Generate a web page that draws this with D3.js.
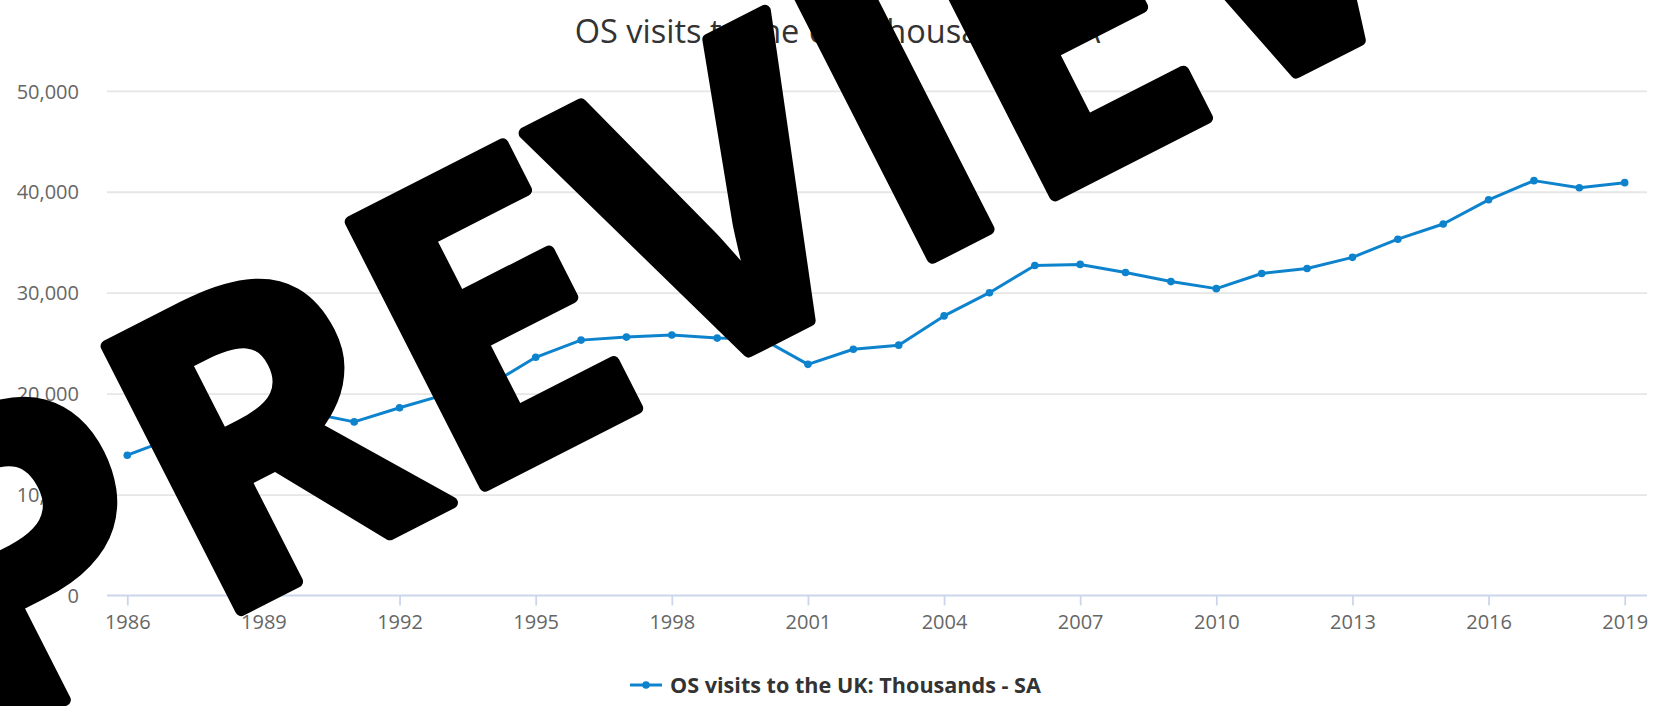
<!DOCTYPE html>
<html>
<head>
<meta charset="utf-8">
<script src="https://cdn.jsdelivr.net/npm/d3@7"></script>
<style>
  html, body { margin: 0; padding: 0; background: #fff; overflow: hidden; }
  svg { display: block; font-family: "Open Sans", "Noto Sans", sans-serif; }
</style>
</head>
<body>
<svg id="chart" width="1675" height="706"></svg>
<script>
// Overseas visits to the UK, thousands, seasonally adjusted
const years = [1986, 1987, 1988, 1989, 1990, 1991, 1992, 1993, 1994, 1995,
               1996, 1997, 1998, 1999, 2000, 2001, 2002, 2003, 2004, 2005,
               2006, 2007, 2008, 2009, 2010, 2011, 2012, 2013, 2014, 2015,
               2016, 2017, 2018, 2019];
const visits = [13900, 15600, 16000, 17300, 18100, 17200, 18600, 19900, 20900, 23600,
                25300, 25600, 25800, 25500, 25400, 22900, 24400, 24800, 27700, 30000,
                32700, 32800, 32000, 31100, 30400, 31900, 32400, 33500, 35300, 36800,
                39200, 41100, 40400, 40900];
const yTicks = [0, 10000, 20000, 30000, 40000, 50000];
const xTicks = [1986, 1989, 1992, 1995, 1998, 2001, 2004, 2007, 2010, 2013, 2016, 2019];
const chartTitle = "OS visits to the UK: Thousands - SA";
const seriesName = "OS visits to the UK: Thousands - SA";
const stampText = "PREVIEW";

const svg = d3.select("#chart");
const plot = { left: 107, right: 1647, top: 90.8, bottom: 595.5 };
const lineColor = "#0e83cd";

const x = d3.scaleLinear().domain([1986, 2019]).range([plot.left + 20.3, plot.right - 22.3]);
const y = d3.scaleLinear().domain([0, 50000]).range([plot.bottom, plot.top]);

// Title
svg.append("text")
  .attr("x", 837.5).attr("y", 43)
  .attr("text-anchor", "middle")
  .attr("font-size", 32.5)
  .attr("fill", "#333")
  .text(chartTitle);

// Horizontal grid lines and y labels
const yAxis = d3.axisLeft(y).tickValues(yTicks)
  .tickSize(-(plot.right - plot.left))
  .tickFormat(d3.format(","))
  .tickPadding(28);
const gy = svg.append("g").attr("transform", `translate(${plot.left},0)`).call(yAxis);
gy.select(".domain").remove();
gy.selectAll(".tick line").attr("stroke", "#e6e6e6").attr("stroke-width", 1.8);
gy.selectAll(".tick text")
  .attr("fill", "#666").attr("font-size", 20)
  .attr("font-family", "'Open Sans', sans-serif")
  .attr("dy", "0.36em");
gy.selectAll(".tick").filter(d => d === 0).select("line").remove();

// X axis
const xAxis = d3.axisBottom(x).tickValues(xTicks)
  .tickFormat(d3.format("d"))
  .tickSize(10).tickPadding(9);
const gx = svg.append("g").attr("transform", `translate(0,${plot.bottom})`).call(xAxis);
gx.select(".domain").attr("d", `M${plot.left},0H${plot.right}`)
  .attr("stroke", "#ccd6eb").attr("stroke-width", 2);
gx.selectAll(".tick line").attr("stroke", "#ccd6eb").attr("stroke-width", 1.8);
gx.selectAll(".tick text")
  .attr("fill", "#666").attr("font-size", 20)
  .attr("font-family", "'Open Sans', sans-serif");

// Series line and markers
const points = years.map((yr, i) => ({ yr, v: visits[i] }));
const line = d3.line().x(d => x(d.yr)).y(d => y(d.v));
svg.append("path")
  .datum(points)
  .attr("d", line)
  .attr("fill", "none")
  .attr("stroke", lineColor)
  .attr("stroke-width", 3)
  .attr("stroke-linejoin", "round");
svg.append("g").selectAll("circle")
  .data(points).join("circle")
  .attr("cx", d => x(d.yr)).attr("cy", d => y(d.v))
  .attr("r", 3.8).attr("fill", lineColor);

// Legend
const lg = svg.append("g").attr("transform", "translate(630,685)");
lg.append("line").attr("x1", 0).attr("x2", 32).attr("y1", 0).attr("y2", 0)
  .attr("stroke", lineColor).attr("stroke-width", 3);
lg.append("circle").attr("cx", 16).attr("cy", 0).attr("r", 3.8).attr("fill", lineColor);
lg.append("text").attr("x", 40).attr("y", 0).attr("dy", "0.35em")
  .attr("font-size", 21.6).attr("font-weight", 700).attr("fill", "#333")
  .text(seriesName);

// Diagonal stamp text across the chart
svg.append("text")
  .attr("transform", "translate(781,335) rotate(-27)")
  .attr("text-anchor", "middle")
  .attr("font-size", 415)
  .attr("font-weight", 700)
  .attr("fill", "#000")
  .attr("stroke", "#000")
  .attr("stroke-width", 12)
  .attr("stroke-linejoin", "round")
  .text(stampText);
</script>
</body>
</html>
